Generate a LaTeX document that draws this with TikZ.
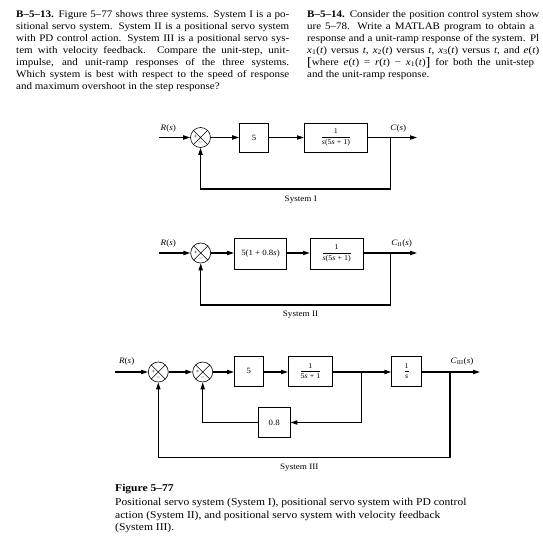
\documentclass[tikz,border=0pt]{standalone}
\usepackage{fontspec}
\setmainfont[FakeStretch=1.1]{Liberation Serif}
\usetikzlibrary{arrows.meta,calc}
\newcommand{\jline}[2][273pt]{\makebox[#1][s]{#2}}
\newcommand{\ital}[1]{\textit{#1}}
\newcommand{\fracbox}[2]{$\displaystyle\frac{\mbox{#1}}{\mbox{#2}}$}
\begin{document}
\begin{tikzpicture}[x=1pt,y=-1pt,
  txt/.style={anchor=base west, inner sep=0pt, font=\fontsize{10}{12}\selectfont},
  captxt/.style={anchor=base west, inner sep=0pt, font=\fontsize{10.5}{12}\selectfont},
  blk/.style={draw, line width=0.6pt, inner sep=0pt, minimum height=29pt, font=\fontsize{8}{9}\selectfont},
  fblk/.style={blk, font=\fontsize{7.3}{8}\selectfont},
  sumj/.style={circle, draw, line width=0.6pt, minimum size=20pt, inner sep=0pt,
    path picture={\draw[line width=0.6pt] (path picture bounding box.north west) -- (path picture bounding box.south east)
      (path picture bounding box.north east) -- (path picture bounding box.south west);}},
  pm/.style={inner sep=0pt, font=\fontsize{6}{6}\selectfont},
  sig/.style={line width=1.3pt, -{Triangle[length=7pt,width=4.2pt]}},
  lbl/.style={inner sep=0pt, font=\fontsize{8.3}{9}\selectfont},
]
\path[use as bounding box] (0,0) rectangle (542,543);
\fill[white] (0,0) rectangle (542,543);

% ---------- left column
\node[txt] (l1) at (16,17.8) {\jline{\textbf{B–5–13.} Figure 5–77 shows three systems. System I is a po-}};
\node[txt] (l2) at (16,29.7) {\jline{sitional servo system. System II is a positional servo system}};
\node[txt] (l3) at (16,41.6) {\jline{with PD control action. System III is a positional servo sys-}};
\node[txt] (l4) at (16,53.5) {\jline{tem with velocity feedback. Compare the unit-step, unit-}};
\node[txt] (l5) at (16,65.4) {\jline{impulse, and unit-ramp responses of the three systems.}};
\node[txt] (l6) at (16,77.3) {\jline{Which system is best with respect to the speed of response}};
\node[txt] (l7) at (16,89.2) {and maximum overshoot in the step response?};

% ---------- right column (only the part inside the page)
\node[txt] (r1) at (307,17.8) {\jline[232pt]{\textbf{B–5–14.} Consider the position control system show}};
\node[txt] (r2) at (307,29.7) {\jline[227pt]{ure 5–78. Write a MATLAB program to obtain a}};
\node[txt] (r3) at (307,41.6) {\jline[232pt]{response and a unit-ramp response of the system. Pl}};
\node[txt] (r4) at (307,53.5) {\jline[232pt]{\ital{x}\textsubscript{1}(\ital{t}) versus \ital{t}, \ital{x}\textsubscript{2}(\ital{t}) versus \ital{t}, \ital{x}\textsubscript{3}(\ital{t}) versus \ital{t}, and \ital{e}(\ital{t})}};
\node[txt] (r5) at (307,65.4) {\jline[227pt]{\raisebox{-1.2pt}{\fontsize{13}{13}\selectfont[}where \ital{e}(\ital{t}) = \ital{r}(\ital{t}) − \ital{x}\textsubscript{1}(\ital{t})\raisebox{-1.2pt}{\fontsize{13}{13}\selectfont]} for both the unit-step}};
\node[txt] (r6) at (307,77.3) {and the unit-ramp response.};

% ---------- System I
\coordinate (a1in) at (159,137.5);
\node[sumj] (a1s) at (200.5,137.5) {};
\node[pm] (a1p) at ([xshift=-5pt,yshift=0.5pt]a1s.center) {+};
\node[pm] (a1m) at ([yshift=-6pt]a1s.center) {−};
\node[blk, minimum width=29pt] (a1g) at (254,137.5) {5};
\node[fblk, minimum width=63.4pt] (a1p2) at (336,137.5) {\fracbox{1}{\ital{s}(5\ital{s} + 1)}};
\coordinate (a1br) at (390.7,137.5);
\coordinate (a1out) at (417,137.5);
\coordinate (a1fb) at (390.7,189);
\coordinate (a1fl) at (200.5,189);
\draw[sig] (a1in) -- (a1s);
\draw[sig] (a1s) -- (a1g);
\draw[sig] (a1g) -- (a1p2);
\draw[sig] (a1p2) -- (a1out);
\draw[sig] (a1br) -- (a1fb) -- (a1fl) -- (a1s.south);
\node[lbl] (a1R) at (168.3,128.3) {\ital{R}(\ital{s})};
\node[lbl] (a1C) at (398.3,128.3) {\ital{C}(\ital{s})};
\node[lbl] (a1t) at (300.8,199.5) {System I};

% ---------- System II
\coordinate (a2in) at (159,253);
\node[sumj] (a2s) at (200.7,253) {};
\node[pm] (a2p) at ([xshift=-5pt,yshift=0.5pt]a2s.center) {+};
\node[pm] (a2m) at ([yshift=-6pt]a2s.center) {−};
\node[blk, minimum width=52.4pt, minimum height=31pt] (a2g) at (260.5,253.5) {5(1 + 0.8\ital{s})};
\node[fblk, minimum width=53.3pt, minimum height=31pt] (a2p2) at (336.7,253.5) {\fracbox{1}{\ital{s}(5\ital{s} + 1)}};
\coordinate (a2br) at (390.7,253);
\coordinate (a2out) at (417,253);
\coordinate (a2fb) at (390.7,305);
\coordinate (a2fl) at (200.7,305);
\draw[sig] (a2in) -- (a2s);
\draw[sig] (a2s) -- (a2s -| a2g.west);
\draw[sig] (a2g.east |- a2s) -- (a2s -| a2p2.west);
\draw[sig] (a2p2.east |- a2s) -- (a2out);
\draw[sig] (a2br) -- (a2fb) -- (a2fl) -- (a2s.south);
\node[lbl] (a2R) at (168.3,243.3) {\ital{R}(\ital{s})};
\node[lbl] (a2C) at (401.7,243.3) {\ital{C}\textsubscript{II}(\ital{s})};
\node[lbl] (a2t) at (300.5,315) {System II};

% ---------- System III
\coordinate (a3in) at (115,372);
\node[sumj] (a3s1) at (158.3,372) {};
\node[pm] (a3p1) at ([xshift=-5pt,yshift=0.5pt]a3s1.center) {+};
\node[pm] (a3m1) at ([yshift=-6pt]a3s1.center) {−};
\node[sumj] (a3s2) at (202.7,372) {};
\node[pm] (a3p2) at ([xshift=-5pt,yshift=0.5pt]a3s2.center) {+};
\node[pm] (a3m2) at ([yshift=-6pt]a3s2.center) {−};
\node[blk, minimum width=29pt, minimum height=30pt] (a3g) at (248.8,371) {5};
\node[fblk, minimum width=44.4pt, minimum height=30pt] (a3m) at (310.5,371) {\fracbox{1}{5\ital{s} + 1}};
\node[fblk, minimum width=30pt, minimum height=30pt] (a3i) at (406.7,371) {\fracbox{1}{\ital{s}}};
\node[blk, minimum width=31.7pt, minimum height=30pt] (a3k) at (274.2,422.5) {0.8};
\coordinate (a3br1) at (361.7,372);
\coordinate (a3br2) at (450,372);
\coordinate (a3out) at (480,372);
\coordinate (a3f1) at (361.7,422.5);
\coordinate (a3f2) at (202.7,422.5);
\coordinate (a3g1) at (450,457.7);
\coordinate (a3g2) at (158.3,457.7);
\draw[sig] (a3in) -- (a3s1);
\draw[sig] (a3s1) -- (a3s2);
\draw[sig] (a3s2) -- (a3s2 -| a3g.west);
\draw[sig] (a3g.east |- a3s2) -- (a3s2 -| a3m.west);
\draw[sig] (a3m.east |- a3s2) -- (a3s2 -| a3i.west);
\draw[sig] (a3i.east |- a3s2) -- (a3out);
\draw[sig] (a3br1) -- (a3f1) -- (a3k.east);
\draw[sig] (a3k.west) -- (a3f2) -- (a3s2.south);
\draw[sig] (a3br2) -- (a3g1) -- (a3g2) -- (a3s1.south);
\node[lbl] (a3R) at (126.7,361.7) {\ital{R}(\ital{s})};
\node[lbl] (a3C) at (462,361.7) {\ital{C}\textsubscript{III}(\ital{s})};
\node[lbl] (a3t) at (299.3,467.5) {System III};

% ---------- caption
\node[captxt] (c0) at (115,491.5) {\textbf{Figure 5–77}};
\node[captxt] (c1) at (115,505.8) {Positional servo system (System I), positional servo system with PD control};
\node[captxt] (c2) at (115,518.1) {action (System II), and positional servo system with velocity feedback};
\node[captxt] (c3) at (115,530.4) {(System III).};
\end{tikzpicture}
\end{document}
